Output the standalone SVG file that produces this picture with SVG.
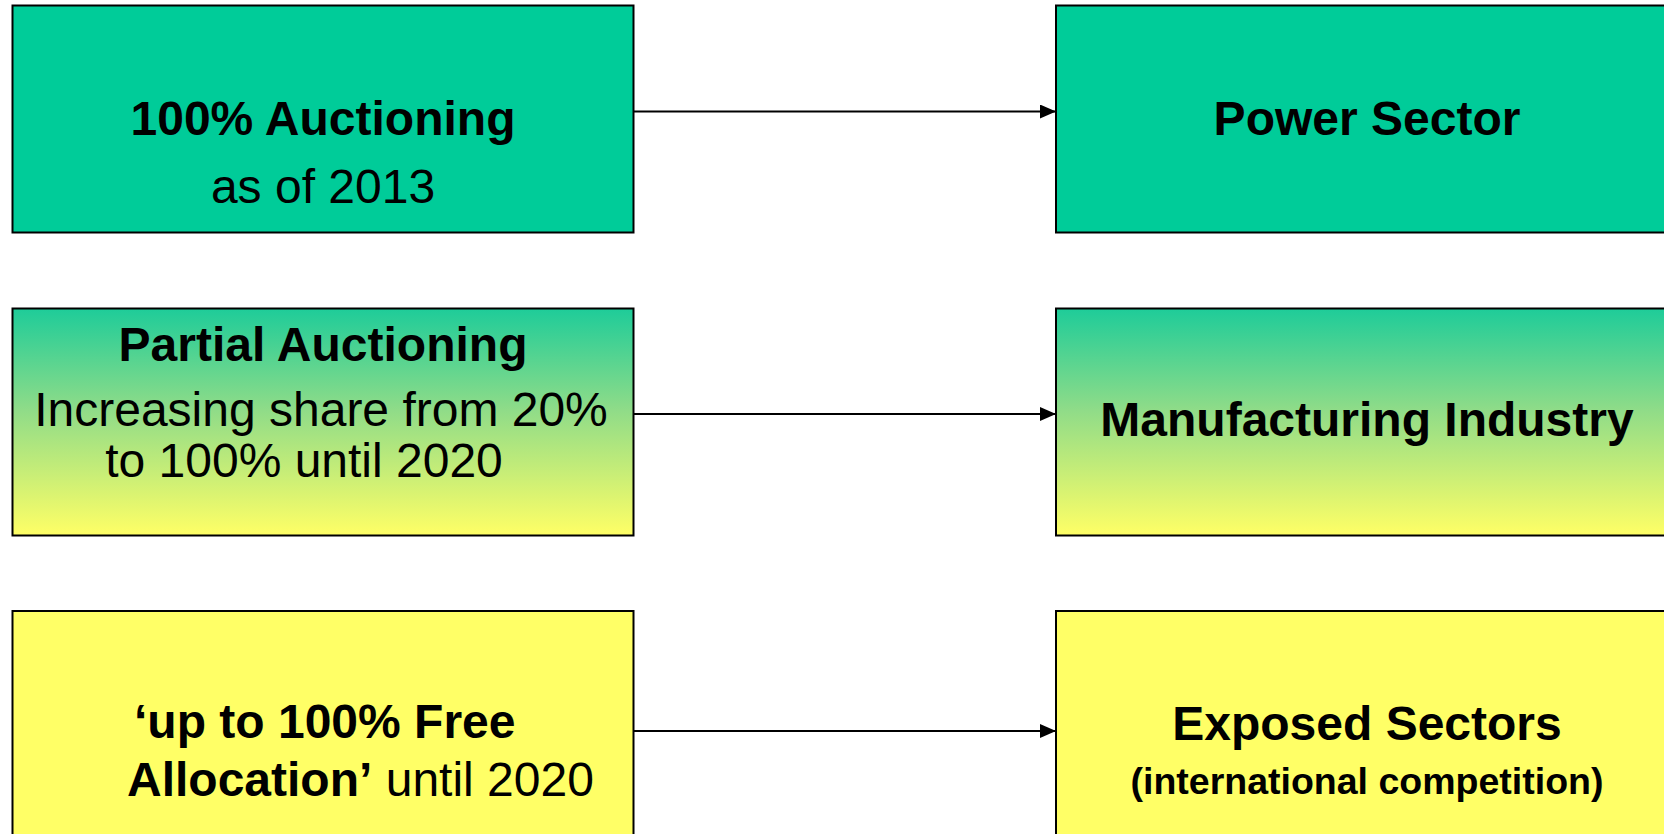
<svg xmlns="http://www.w3.org/2000/svg" width="1664" height="834" viewBox="0 0 1664 834">
  <defs>
    <linearGradient id="mixFill" x1="0" y1="0" x2="0" y2="1">
      <stop offset="0" stop-color="#1ECC99"/>
      <stop offset="0.45" stop-color="#90DC88"/>
      <stop offset="1" stop-color="#FFFF66"/>
    </linearGradient>
    <marker id="arrowHead" markerUnits="userSpaceOnUse" markerWidth="16" markerHeight="14" refX="16" refY="7" orient="auto">
      <path d="M0,0 L16,7 L0,14 Z" fill="#000"/>
    </marker>
    <style>
      .box { stroke: #000; stroke-width: 2; }
      .green { fill: #00CC99; }
      .mixed { fill: url(#mixFill); }
      .yellow { fill: #FFFF66; }
      .label { font-family: "Liberation Sans", Arial, Helvetica, sans-serif; font-size: 48px; fill: #000; }
      .b { font-weight: bold; }
      .small { font-size: 37.5px; font-weight: bold; }
      .link { stroke: #000; stroke-width: 2; fill: none; marker-end: url(#arrowHead); }
    </style>
  </defs>

  <rect width="1664" height="834" fill="#fff"/>

  <!-- connectors -->
  <g id="connectors">
    <line class="link" x1="633.5" y1="111.5" x2="1056" y2="111.5"/>
    <line class="link" x1="633.5" y1="414" x2="1056" y2="414"/>
    <line class="link" x1="633.5" y1="731" x2="1056" y2="731"/>
  </g>

  <!-- allocation methods (left column) -->
  <g id="auction-full">
    <rect class="box green" x="12.5" y="5.5" width="621" height="227"/>
    <text class="label b" x="323" y="135" text-anchor="middle">100% Auctioning</text>
    <text class="label" x="323" y="203" text-anchor="middle">as of 2013</text>
  </g>

  <g id="auction-partial">
    <rect class="box mixed" x="12.5" y="308.5" width="621" height="227"/>
    <text class="label b" x="323" y="361" text-anchor="middle">Partial Auctioning</text>
    <text class="label" x="321" y="425.5" text-anchor="middle">Increasing share from 20%</text>
    <text class="label" x="304" y="476.5" text-anchor="middle">to 100% until 2020</text>
  </g>

  <g id="free-allocation">
    <rect class="box yellow" x="12.5" y="611" width="621" height="240"/>
    <text class="label b" x="134" y="738">‘up to 100% Free</text>
    <text class="label" x="127" y="796"><tspan class="b">Allocation’</tspan> until 2020</text>
  </g>

  <!-- sectors (right column) -->
  <g id="power-sector">
    <rect class="box green" x="1056" y="5.5" width="622" height="227"/>
    <text class="label b" x="1367" y="135" text-anchor="middle">Power Sector</text>
  </g>

  <g id="manufacturing">
    <rect class="box mixed" x="1056" y="308.5" width="622" height="227"/>
    <text class="label b" x="1367" y="436" text-anchor="middle">Manufacturing Industry</text>
  </g>

  <g id="exposed-sectors">
    <rect class="box yellow" x="1056" y="611" width="622" height="240"/>
    <text class="label b" x="1367" y="740" text-anchor="middle">Exposed Sectors</text>
    <text class="label small" x="1367" y="794" text-anchor="middle">(international competition)</text>
  </g>
</svg>
